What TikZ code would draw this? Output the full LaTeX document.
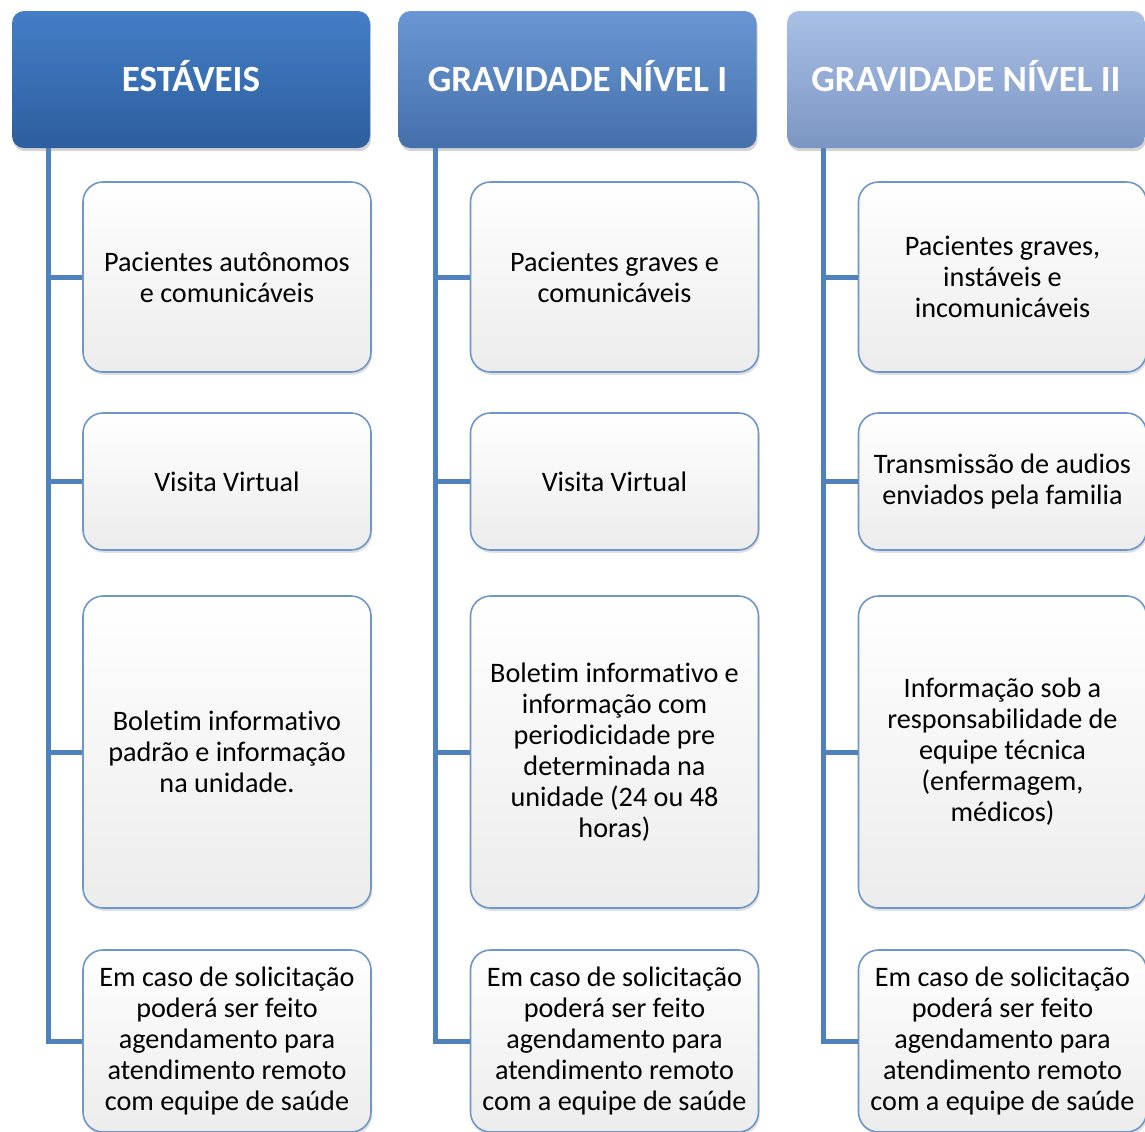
\documentclass[tikz,border=0pt]{standalone}
\usepackage{fontspec}
\setmainfont{Carlito}[Ligatures=NoCommon]
\usetikzlibrary{shadows}

\definecolor{trunkblue}{HTML}{4F81BD}
\definecolor{boxline}{HTML}{6E96CA}
\definecolor{boxgray}{HTML}{ECECEC}
\definecolor{stabletop}{HTML}{447EC6}
\definecolor{stablebot}{HTML}{2D5E9E}
\definecolor{leveltop}{HTML}{6A97D4}
\definecolor{levelbot}{HTML}{446FAA}
\definecolor{levtwotop}{HTML}{A9C0E6}
\definecolor{levtwobot}{HTML}{7C96C3}

\begin{document}
\begin{tikzpicture}[x=0.5pt,y=-0.5pt,
  header/.style={rounded corners=6pt,minimum width=179pt,minimum height=68.5pt,
    text=white,font=\fontsize{18.5}{22}\selectfont\bfseries,
    text height=12pt,text depth=0pt,
    drop shadow={shadow xshift=0.6pt,shadow yshift=-1.6pt,opacity=0.35}},
  item/.style={draw=boxline,line width=0.8pt,rounded corners=10pt,
    top color=white,bottom color=boxgray,minimum width=144pt,
    align=center,inner sep=0pt,
    font=\fontsize{14.1}{15.5}\selectfont,
    drop shadow={shadow xshift=0.6pt,shadow yshift=-1.4pt,opacity=0.25}},
  trunk/.style={trunkblue,line width=2.5pt}]

\useasboundingbox (0,0) rectangle (1145,1131);

% Draw the headers
\node[header,top color=stabletop,bottom color=stablebot] (h1) at (191,79.5) {ESTÁVEIS};
\node[header,top color=leveltop,bottom color=levelbot] (h2) at (577.5,79.5) {GRAVIDADE NÍVEL I};
\node[header,top color=levtwotop,bottom color=levtwobot] (h3) at (966,79.5) {GRAVIDADE NÍVEL II};

%% Draw the first column
\node[item,minimum height=95pt] (a1) at (227,277) {Pacientes autônomos\\e comunicáveis};
\node[item,minimum height=68.5pt] (a2) at (227,481.5) {Visita Virtual};
\node[item,minimum height=156pt] (a3) at (227,752) {Boletim informativo\\padrão e informação\\na unidade.};
\node[item,minimum height=91pt] (a4) at (227,1041) {Em caso de solicitação\\poderá ser feito\\agendamento para\\atendimento remoto\\com equipe de saúde};

%% Draw the second column
\node[item,minimum height=95pt] (b1) at (614.5,277) {Pacientes graves e\\comunicáveis};
\node[item,minimum height=68.5pt] (b2) at (614.5,481.5) {Visita Virtual};
\node[item,minimum height=156pt] (b3) at (614.5,752) {Boletim informativo e\\informação com\\periodicidade pre\\determinada na\\unidade (24 ou 48\\horas)};
\node[item,minimum height=91pt] (b4) at (614.5,1041) {Em caso de solicitação\\poderá ser feito\\agendamento para\\atendimento remoto\\com a equipe de saúde};

%% Draw the third column
\node[item,minimum height=95pt] (c1) at (1002.5,277) {Pacientes graves,\\instáveis e\\incomunicáveis};
\node[item,minimum height=68.5pt] (c2) at (1002.5,481.5) {Transmissão de audios\\enviados pela familia};
\node[item,minimum height=156pt] (c3) at (1002.5,752) {Informação sob a\\responsabilidade de\\equipe técnica\\(enfermagem,\\médicos)};
\node[item,minimum height=91pt] (c4) at (1002.5,1041) {Em caso de solicitação\\poderá ser feito\\agendamento para\\atendimento remoto\\com a equipe de saúde};

%% Draw the trunks
\coordinate (t1) at (48,148);
\coordinate (t2) at (435,148);
\coordinate (t3) at (823,148);

\draw[trunk] (t1) |- (a4.west);
\draw[trunk] (t1 |- a1.west) -- (a1.west);
\draw[trunk] (t1 |- a2.west) -- (a2.west);
\draw[trunk] (t1 |- a3.west) -- (a3.west);

\draw[trunk] (t2) |- (b4.west);
\draw[trunk] (t2 |- b1.west) -- (b1.west);
\draw[trunk] (t2 |- b2.west) -- (b2.west);
\draw[trunk] (t2 |- b3.west) -- (b3.west);

\draw[trunk] (t3) |- (c4.west);
\draw[trunk] (t3 |- c1.west) -- (c1.west);
\draw[trunk] (t3 |- c2.west) -- (c2.west);
\draw[trunk] (t3 |- c3.west) -- (c3.west);

\end{tikzpicture}
\end{document}
